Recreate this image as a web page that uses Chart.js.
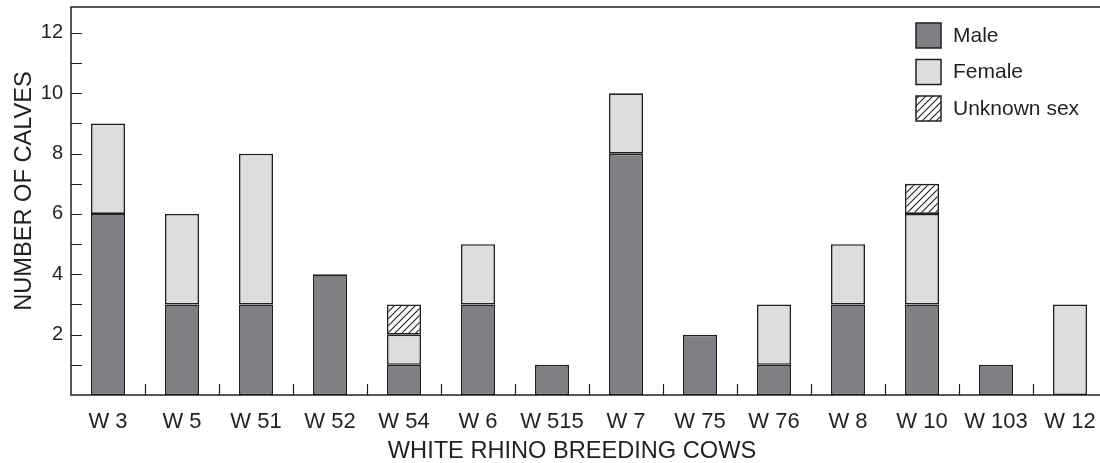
<!DOCTYPE html>
<html>
<head>
<meta charset="utf-8">
<script src="https://cdn.jsdelivr.net/npm/chart.js@4/dist/chart.umd.min.js"></script>
<style>
  html, body { margin: 0; padding: 0; background: #fff; overflow: hidden; }
  #wrap { width: 1110px; height: 463px; position: relative; }
</style>
</head>
<body>
<div id="wrap"><canvas id="rhinoChart"></canvas></div>
<script>
const cows = ['W 3', 'W 5', 'W 51', 'W 52', 'W 54', 'W 6', 'W 515', 'W 7', 'W 75', 'W 76', 'W 8', 'W 10', 'W 103', 'W 12'];
const maleCalves = [6, 3, 3, 4, 1, 3, 1, 8, 2, 1, 3, 3, 1, 0];
const femaleCalves = [3, 3, 5, 0, 1, 2, 0, 2, 0, 2, 2, 3, 0, 3];
const unknownCalves = [0, 0, 0, 0, 1, 0, 0, 0, 0, 0, 0, 1, 0, 0];
const yLabelTicks = [2, 4, 6, 8, 10, 12];
const xTitle = 'WHITE RHINO BREEDING COWS';
const yTitle = 'NUMBER OF CALVES';

const ink = '#231f20';
const maleColor = '#7f8084';
const femaleColor = '#dcdddf';
const fontFamily = '"Liberation Sans", Arial, sans-serif';

// diagonal hatch for the unknown sex part
function makeHatch() {
    const c = document.createElement('canvas');
    c.width = 7;
    c.height = 7;
    const g = c.getContext('2d');
    g.fillStyle = '#fff';
    g.fillRect(0, 0, 7, 7);
    g.strokeStyle = ink;
    g.lineWidth = 1.1;
    g.beginPath();
    g.moveTo(-1, 8); g.lineTo(8, -1);
    g.moveTo(-1, 1); g.lineTo(1, -1);
    g.moveTo(6, 8); g.lineTo(8, 6);
    g.stroke();
    return g.createPattern(c, 'repeat');
}
const hatch = makeHatch();

// inward ticks, frame, axis titles and legend drawn on top
const framePlugin = {
    id: 'frame',
    afterDraw(chart) {
        const ctx = chart.ctx;
        const a = chart.chartArea;
        const x = chart.scales.x;
        const y = chart.scales.y;
        ctx.save();
        ctx.strokeStyle = ink;
        ctx.lineWidth = 1.5;
        ctx.strokeRect(a.left, a.top, a.right - a.left, a.bottom - a.top);

        ctx.lineWidth = 1.2;
        ctx.beginPath();
        for (let v = 1; v <= 12; v++) {
            const py = Math.round(y.getPixelForValue(v)) + 0.5;
            ctx.moveTo(a.left, py);
            ctx.lineTo(a.left + 11, py);
        }
        for (let i = 1; i < cows.length; i++) {
            const px = Math.round((x.getPixelForValue(i - 1) + x.getPixelForValue(i)) / 2) + 0.5;
            ctx.moveTo(px, a.bottom);
            ctx.lineTo(px, a.bottom - 11);
        }
        ctx.stroke();

        // axis titles (the original is not centred on the plot box)
        ctx.fillStyle = ink;
        ctx.font = '23.6px ' + fontFamily;
        ctx.textAlign = 'center';
        ctx.textBaseline = 'alphabetic';
        ctx.fillText(xTitle, 572, 458);
        ctx.save();
        ctx.translate(31, 191);
        ctx.rotate(-Math.PI / 2);
        ctx.fillText(yTitle, 0, 0);
        ctx.restore();

        // legend
        const items = chart.data.datasets;
        ctx.font = '21px ' + fontFamily;
        ctx.textBaseline = 'middle';
        ctx.textAlign = 'left';
        items.forEach(function (ds, i) {
            const bx = 916, by = 23 + i * 36.5;
            ctx.fillStyle = ds.backgroundColor;
            ctx.fillRect(bx, by, 25, 25);
            ctx.lineWidth = 1.5;
            ctx.strokeStyle = ink;
            ctx.strokeRect(bx, by, 25, 25);
            ctx.fillStyle = ink;
            ctx.fillText(ds.label, 953, by + 13);
        });
        ctx.restore();
    }
};

const barStyle = { borderColor: ink, borderWidth: 1.6, borderSkipped: false, barPercentage: 0.46, categoryPercentage: 1 };

new Chart(document.getElementById('rhinoChart'), {
    type: 'bar',
    data: {
        labels: cows,
        datasets: [
            Object.assign({ label: 'Male', data: maleCalves, backgroundColor: maleColor }, barStyle),
            Object.assign({ label: 'Female', data: femaleCalves, backgroundColor: femaleColor }, barStyle),
            Object.assign({ label: 'Unknown sex', data: unknownCalves, backgroundColor: hatch }, barStyle)
        ]
    },
    options: {
        responsive: true,
        maintainAspectRatio: false,
        animation: false,
        layout: { padding: { top: 7, right: 3, left: 0, bottom: 0 } },
        plugins: { legend: { display: false }, tooltip: { enabled: false } },
        scales: {
            x: {
                stacked: true,
                grid: { display: false, drawTicks: false },
                border: { display: false },
                afterFit: function (s) { s.height = 68; s.paddingLeft = 0; s.paddingRight = 0; },
                ticks: { color: ink, padding: 14, maxRotation: 0, font: { family: fontFamily, size: 22 } }
            },
            y: {
                stacked: true,
                min: 0,
                max: 12.86,
                grid: { display: false, drawTicks: false },
                border: { display: false },
                afterFit: function (s) { s.width = 71; s.paddingTop = 0; s.paddingBottom = 0; },
                afterBuildTicks: function (s) { s.ticks = yLabelTicks.map(v => ({ value: v })); },
                ticks: { color: ink, padding: 8, font: { family: fontFamily, size: 20 } }
            }
        }
    },
    plugins: [framePlugin]
});
</script>
</body>
</html>
